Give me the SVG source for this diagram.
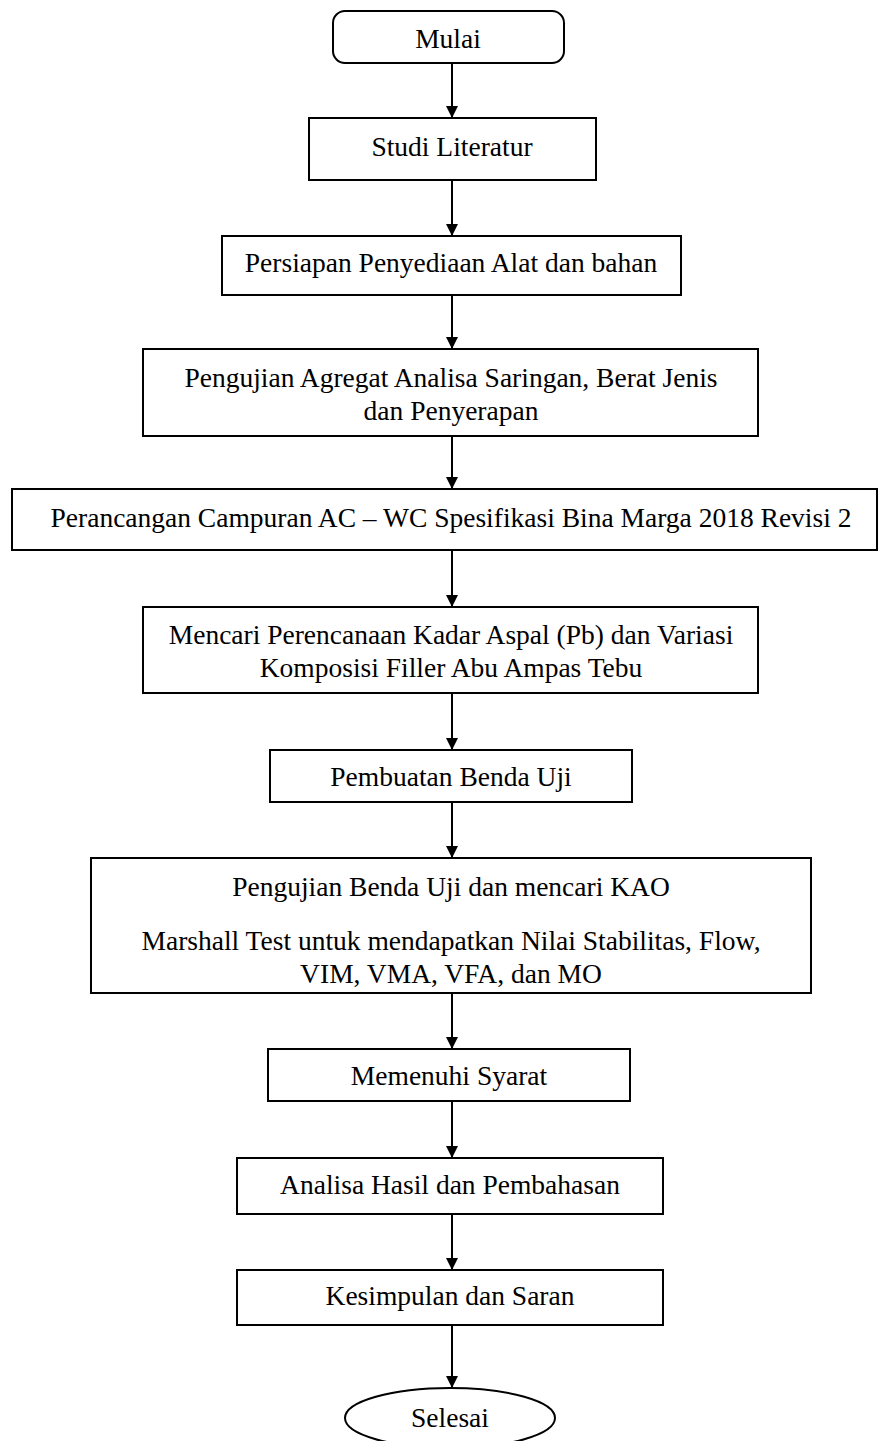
<svg xmlns="http://www.w3.org/2000/svg" width="878" height="1441" viewBox="0 0 878 1441">
<defs>
<style>
.box{fill:#fff;stroke:#000;stroke-width:2}
.t{font-family:"Liberation Serif","Times New Roman",serif;font-size:27.5px;fill:#000;text-anchor:middle}
.c{stroke:#000;stroke-width:2;fill:none;marker-end:url(#ah)}
</style>
<marker id="ah" markerWidth="12" markerHeight="12" refX="12" refY="6" orient="auto" markerUnits="userSpaceOnUse">
<path d="M0,0 L12,6 L0,12 Z" fill="#000"/>
</marker>
</defs>
<rect width="878" height="1441" fill="#fff"/>
<g id="connectors">
<line class="c" x1="452" y1="63" x2="452" y2="118"/>
<line class="c" x1="452" y1="180" x2="452" y2="236"/>
<line class="c" x1="452" y1="295" x2="452" y2="349"/>
<line class="c" x1="452" y1="436" x2="452" y2="489"/>
<line class="c" x1="452" y1="550" x2="452" y2="607"/>
<line class="c" x1="452" y1="693" x2="452" y2="750"/>
<line class="c" x1="452" y1="802" x2="452" y2="858"/>
<line class="c" x1="452" y1="993" x2="452" y2="1049"/>
<line class="c" x1="452" y1="1101" x2="452" y2="1158"/>
<line class="c" x1="452" y1="1214" x2="452" y2="1270"/>
<line class="c" x1="452" y1="1325" x2="452" y2="1388"/>
</g>
<g id="mulai"><rect class="box" x="333" y="11" width="231" height="52" rx="12"/><text class="t" x="448" y="48">Mulai</text></g>
<g id="studi"><rect class="box" x="309" y="118" width="287" height="62"/><text class="t" x="452" y="156">Studi Literatur</text></g>
<g id="persiapan"><rect class="box" x="222" y="236" width="459" height="59"/><text class="t" x="451" y="272">Persiapan Penyediaan Alat dan bahan</text></g>
<g id="pengujian-agregat"><rect class="box" x="143" y="349" width="615" height="87"/><text class="t" x="451" y="387">Pengujian Agregat Analisa Saringan, Berat Jenis</text><text class="t" x="451" y="420">dan Penyerapan</text></g>
<g id="perancangan"><rect class="box" x="12" y="489" width="865" height="61"/><text class="t" x="451" y="527">Perancangan Campuran AC – WC Spesifikasi Bina Marga 2018 Revisi 2</text></g>
<g id="mencari"><rect class="box" x="143" y="607" width="615" height="86"/><text class="t" x="451" y="644">Mencari Perencanaan Kadar Aspal (Pb) dan Variasi</text><text class="t" x="451" y="677">Komposisi Filler Abu Ampas Tebu</text></g>
<g id="pembuatan"><rect class="box" x="270" y="750" width="362" height="52"/><text class="t" x="451" y="786">Pembuatan Benda Uji</text></g>
<g id="pengujian-benda"><rect class="box" x="91" y="858" width="720" height="135"/><text class="t" x="451" y="896">Pengujian Benda Uji dan mencari KAO</text><text class="t" x="451" y="950">Marshall Test untuk mendapatkan Nilai Stabilitas, Flow,</text><text class="t" x="451" y="983">VIM, VMA, VFA, dan MO</text></g>
<g id="memenuhi"><rect class="box" x="268" y="1049" width="362" height="52"/><text class="t" x="449" y="1085">Memenuhi Syarat</text></g>
<g id="analisa"><rect class="box" x="237" y="1158" width="426" height="56"/><text class="t" x="450" y="1194">Analisa Hasil dan Pembahasan</text></g>
<g id="kesimpulan"><rect class="box" x="237" y="1270" width="426" height="55"/><text class="t" x="450" y="1305">Kesimpulan dan Saran</text></g>
<g id="selesai"><ellipse class="box" cx="450" cy="1418" rx="105" ry="30"/><text class="t" x="450" y="1427">Selesai</text></g>
</svg>
